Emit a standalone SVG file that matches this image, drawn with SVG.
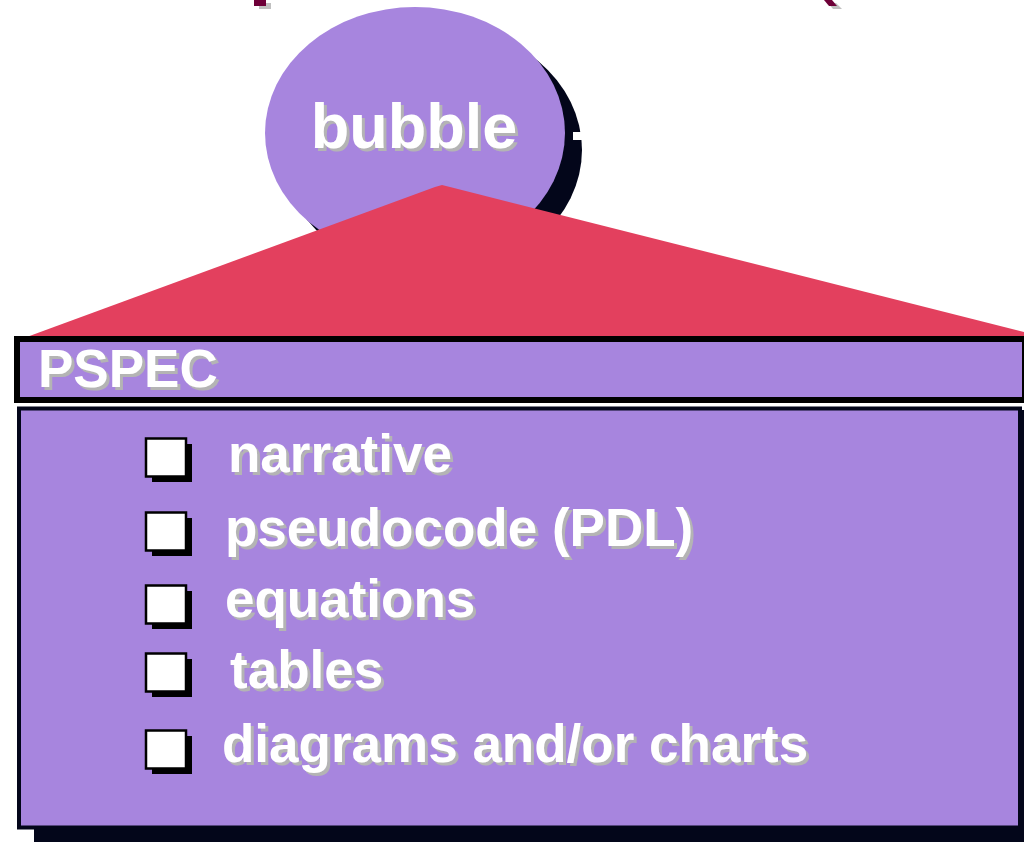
<svg xmlns="http://www.w3.org/2000/svg" width="1024" height="842" viewBox="0 0 1024 842">
<defs>
<filter id="tsh" x="-5%" y="-10%" width="115%" height="130%">
<feOffset in="SourceAlpha" dx="3" dy="2.5" result="o"/>
<feFlood flood-color="#b4b4b4"/>
<feComposite in2="o" operator="in" result="s"/>
<feMerge><feMergeNode in="s"/><feMergeNode in="SourceGraphic"/></feMerge>
</filter>
</defs>
<style>
.t{font-family:"Liberation Sans",Arial,sans-serif;font-weight:bold;fill:#ffffff;filter:url(#tsh)}
.item{font-size:53px}
.purple{fill:#a785de}
.dark{fill:#03061a}
.box{fill:#ffffff;stroke:#000000;stroke-width:2.5}
.boxsh{fill:#000000}
</style>
<rect width="1024" height="842" fill="#ffffff"/>
<g id="top-fragments">
<rect x="259" y="3" width="12" height="6" fill="#c0c0c0"/>
<rect x="254" y="0" width="12" height="6" fill="#6e0038"/>
<polygon points="828,3 836,3 842,9 833,9" fill="#c0c0c0"/>
<polygon points="824,0 832,0 837,6 829,6" fill="#6e0038"/>
</g>
<g id="bubble">
<ellipse cx="432" cy="150" rx="150" ry="126" class="dark"/>
<ellipse cx="415" cy="133" rx="150" ry="126" class="purple"/>
<rect x="573" y="132" width="9" height="8" fill="#ffffff"/>
<text x="414" y="148" text-anchor="middle" class="t" font-size="63">bubble</text>
</g>
<g id="connectors">
<polygon points="24,338 435,187 442,185 450,187 1024,332 1024,340 24,340" fill="#e3405e"/>
</g>
<g id="pspec-bar">
<rect x="17" y="339" width="1008" height="61" class="purple" stroke="#000000" stroke-width="6"/>
<text x="38" y="387" class="t" font-size="53">PSPEC</text>
</g>
<g id="pspec-box">
<rect x="34" y="423" width="1010" height="430" class="dark"/>
<rect x="1018" y="410" width="6" height="420" class="dark"/>
<rect x="19" y="408.5" width="1001" height="419" class="purple" stroke="#03061a" stroke-width="4"/>
</g>
<g id="item-narrative">
<rect x="152" y="444" width="40" height="38" class="boxsh"/>
<rect x="146" y="438.5" width="40" height="38" class="box"/>
<text x="228" y="472" class="t item">narrative</text>
</g>
<g id="item-pseudocode">
<rect x="152" y="518" width="40" height="38" class="boxsh"/>
<rect x="146" y="512.5" width="40" height="38" class="box"/>
<text x="225" y="546" class="t item">pseudocode (PDL)</text>
</g>
<g id="item-equations">
<rect x="152" y="591" width="40" height="38" class="boxsh"/>
<rect x="146" y="585.5" width="40" height="38" class="box"/>
<text x="225" y="617" class="t item">equations</text>
</g>
<g id="item-tables">
<rect x="152" y="659" width="40" height="38" class="boxsh"/>
<rect x="146" y="653.5" width="40" height="38" class="box"/>
<text x="230" y="688" class="t item">tables</text>
</g>
<g id="item-diagrams">
<rect x="152" y="736" width="40" height="38" class="boxsh"/>
<rect x="146" y="730.5" width="40" height="38" class="box"/>
<text x="222" y="762" class="t item">diagrams and/or charts</text>
</g>
</svg>
